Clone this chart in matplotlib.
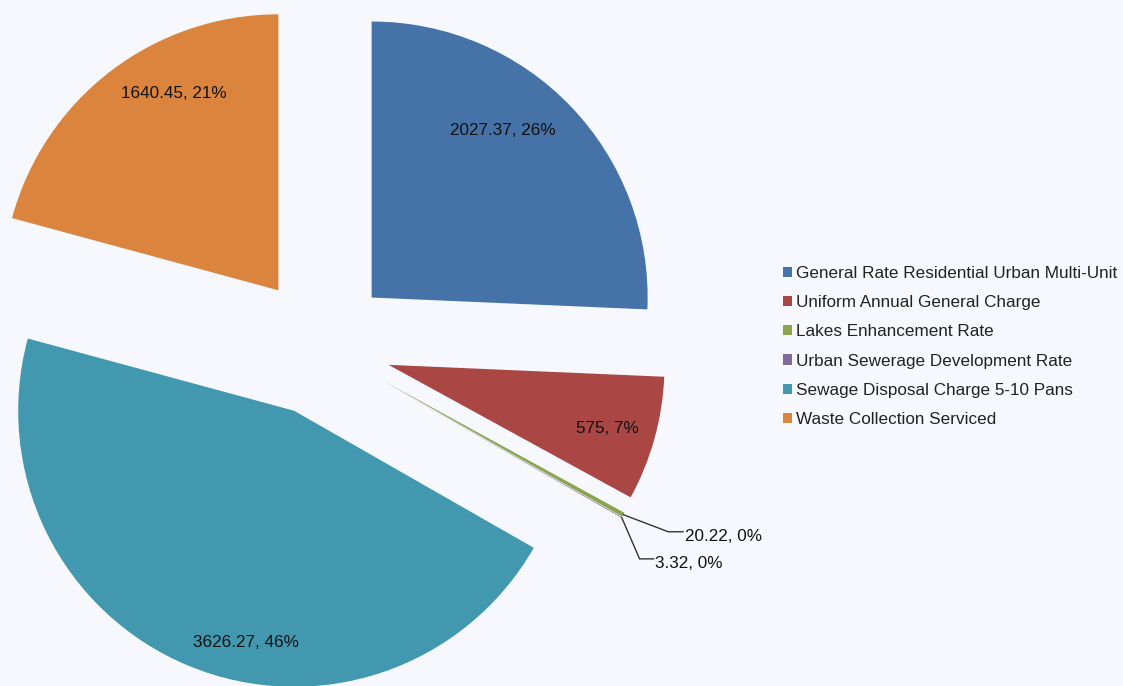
import numpy as np
import matplotlib
matplotlib.use("Agg")
import matplotlib.pyplot as plt
from matplotlib.patches import Patch

plt.rcParams['font.family'] = ['Liberation Sans', 'DejaVu Sans']

categories = ['General Rate Residential Urban Multi-Unit',
              'Uniform Annual General Charge',
              'Lakes Enhancement Rate',
              'Urban Sewerage Development Rate',
              'Sewage Disposal Charge 5-10 Pans',
              'Waste Collection Serviced']
values = [2027.37, 575, 20.22, 3.32, 3626.27, 1640.45]
value_text = ['2027.37', '575', '20.22', '3.32', '3626.27', '1640.45']
colors = ['#4572A7', '#AA4643', '#89A54E', '#80699B', '#4298AF', '#DB843D']

BG = '#F7F8FE'
W, H = 1123, 686
R = 276.0          # pie radius in pixels
CX, CY = 321, 346  # pie centre in pixels (from top-left)
FS = 12.3

fig = plt.figure(figsize=(W / 100, H / 100), dpi=100, facecolor=BG)
ax = fig.add_axes([0, 0, 1, 1])
ax.set_facecolor(BG)

wedges, _ = ax.pie(values, colors=colors, startangle=90, counterclock=False,
                   explode=[0.254] * len(values), radius=1,
                   wedgeprops=dict(linewidth=0))

ax.set_aspect('auto')
ax.set_xlim(-CX / R, (W - CX) / R)
ax.set_ylim(-(H - CY) / R, CY / R)
ax.axis('off')

total = sum(values)
pcts = [round(v / total * 100) for v in values]

# inside labels: (angle shift in deg, distance from wedge centre)
inside = {0: (8, 0.78), 1: (0, 0.83), 4: (11, 0.85), 5: (-10, 0.81)}
for i, (shift, dist) in inside.items():
    w = wedges[i]
    mid = np.deg2rad((w.theta1 + w.theta2) / 2 + shift)
    cx, cy = w.center
    ax.text(cx + dist * np.cos(mid) - 0.006, cy + dist * np.sin(mid) - 0.006,
            f'{value_text[i]}, {pcts[i]}%', ha='center', va='center',
            fontsize=FS, color='#111111')

# outside labels with connectors for the tiny slices
outside = {2: ((0.163, -0.062), (0.217, -0.062)),
           3: ((0.065, -0.150), (0.116, -0.150))}
for i, (bend, end) in outside.items():
    w = wedges[i]
    mid = np.deg2rad((w.theta1 + w.theta2) / 2)
    cx, cy = w.center
    tx, ty = cx + np.cos(mid), cy + np.sin(mid)
    ax.plot([tx, tx + bend[0], tx + end[0]], [ty, ty + bend[1], ty + end[1]],
            color='#333333', lw=1)
    ax.text(tx + end[0] + 0.006, ty + end[1] - 0.016,
            f'{value_text[i]}, {pcts[i]}%', ha='left', va='center',
            fontsize=FS, color='#111111')

handles = [Patch(facecolor=c, edgecolor='none') for c in colors]
fig.legend(handles, categories, loc='upper left',
           bbox_to_anchor=(783 / W, 1 - 266 / H), frameon=False,
           fontsize=FS, handlelength=0.55, handleheight=0.55,
           handletextpad=0.2, labelspacing=0.83, borderpad=0,
           borderaxespad=0, labelcolor='#222222')

fig.savefig('out.png', dpi=100, facecolor=BG)
